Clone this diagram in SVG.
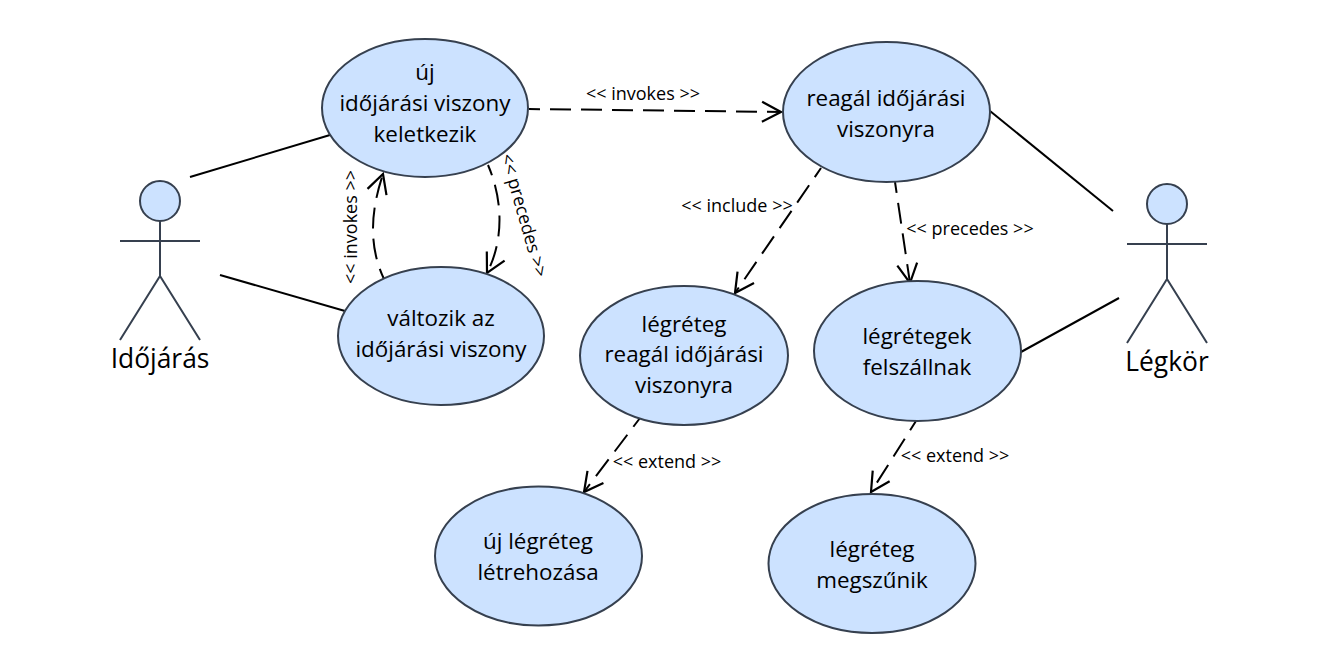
<svg xmlns="http://www.w3.org/2000/svg" width="1320" height="672" viewBox="0 0 1320 672">
<style>
text{font-family:"Open Sans","Noto Sans",sans-serif;fill:#000;text-anchor:middle}
.n ellipse{fill:#cce2ff;stroke:#36404f;stroke-width:2}
.n text{font-size:22.4px}
.a circle{fill:#cce2ff;stroke:#36404f;stroke-width:2}
.a path{fill:none;stroke:#36404f;stroke-width:2}
.a text{font-size:26.4px}
.c path,.c line{fill:none;stroke:#000;stroke-width:2}
.d{stroke-dasharray:21 10;stroke-dashoffset:10}
.l{font-size:18px}
</style>
<defs><marker id="o" markerUnits="userSpaceOnUse" markerWidth="24" markerHeight="24" refX="21" refY="11" orient="auto" viewBox="0 0 24 22"><path d="M2 1L21 11L2 21" fill="none" stroke="#000" stroke-width="2.2"/></marker></defs>
<g class="c" id="connectors">
<line x1="190" y1="177" x2="330" y2="135"/>
<line x1="220" y1="275" x2="345" y2="311"/>
<line x1="990" y1="111" x2="1113" y2="211"/>
<line x1="1021" y1="352" x2="1119" y2="298"/>
<line class="d" x1="529" y1="109" x2="781" y2="112" marker-end="url(#o)"/>
<path class="d" d="M384 279C368 245 371 210 383 174" marker-end="url(#o)"/>
<path class="d" d="M488 165C503 200 504 240 487 273" marker-end="url(#o)"/>
<line class="d" x1="821" y1="168" x2="735" y2="293" marker-end="url(#o)"/>
<line class="d" x1="895" y1="182" x2="910" y2="283" marker-end="url(#o)"/>
<line class="d" x1="640" y1="418" x2="584" y2="492" marker-end="url(#o)"/>
<line class="d" x1="916" y1="421" x2="871" y2="492" marker-end="url(#o)"/>
</g>
<g class="n" id="n1"><ellipse cx="425" cy="108" rx="103" ry="69"/><text x="425" y="80">új</text><text x="425" y="111">időjárási viszony</text><text x="425" y="142">keletkezik</text></g>
<g class="n" id="n2"><ellipse cx="441" cy="336" rx="103" ry="69"/><text x="441" y="326">változik az</text><text x="441" y="357">időjárási viszony</text></g>
<g class="n" id="n3"><ellipse cx="886.5" cy="112" rx="103.5" ry="70"/><text x="886" y="106">reagál időjárási</text><text x="886" y="137">viszonyra</text></g>
<g class="n" id="n4"><ellipse cx="684" cy="355.5" rx="104" ry="69.5"/><text x="684" y="332">légréteg</text><text x="684" y="362">reagál időjárási</text><text x="684" y="393">viszonyra</text></g>
<g class="n" id="n5"><ellipse cx="917.5" cy="351" rx="103.5" ry="70"/><text x="917" y="344">légrétegek</text><text x="917" y="375">felszállnak</text></g>
<g class="n" id="n6"><ellipse cx="538.5" cy="556" rx="103.5" ry="69.5"/><text x="538" y="549">új légréteg</text><text x="538" y="580">létrehozása</text></g>
<g class="n" id="n7"><ellipse cx="872" cy="563.5" rx="103.5" ry="69.5"/><text x="872" y="557">légréteg</text><text x="872" y="588">megszűnik</text></g>
<g class="a" id="idojaras"><circle cx="160" cy="201" r="20"/><path d="M160 221V276M120 241H200M160 276L120 340M160 276L200 340"/><text x="160" y="368">Időjárás</text></g>
<g class="a" id="legkor"><circle cx="1167" cy="204" r="20"/><path d="M1167 224V279M1127 244H1207M1167 279L1127 343M1167 279L1207 343"/><text x="1167" y="371">Légkör</text></g>
<g id="labels">
<text class="l" x="643" y="100">&lt;&lt; invokes &gt;&gt;</text>
<text class="l" x="737" y="212">&lt;&lt; include &gt;&gt;</text>
<text class="l" x="970" y="235">&lt;&lt; precedes &gt;&gt;</text>
<text class="l" x="667" y="468">&lt;&lt; extend &gt;&gt;</text>
<text class="l" x="955" y="462">&lt;&lt; extend &gt;&gt;</text>
<text class="l" transform="translate(357 227) rotate(-90)">&lt;&lt; invokes &gt;&gt;</text>
<text class="l" transform="translate(518 217) rotate(74)">&lt;&lt; precedes &gt;&gt;</text>
</g>
</svg>
